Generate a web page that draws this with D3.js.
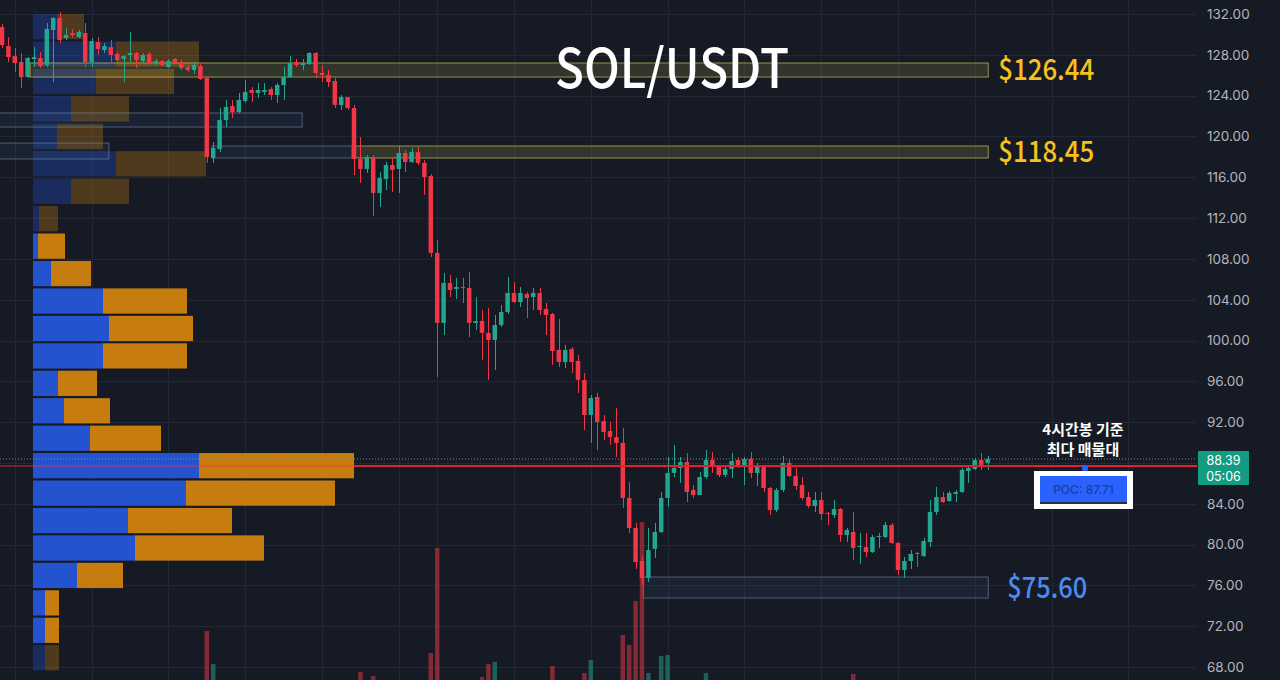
<!DOCTYPE html>
<html><head><meta charset="utf-8">
<script src="https://cdn.jsdelivr.net/npm/d3@7/dist/d3.min.js"></script>
<style>html,body{margin:0;padding:0;background:#161a25;overflow:hidden}</style>
</head><body><svg id="c" width="1280" height="680"></svg>
<script>
// ---------- DATA ----------
const title = "SOL/USDT";
const priceTicks = [68,72,76,80,84,88,92,96,100,104,108,112,116,120,124,128,132];
const opens = [130.72,128.86,127.88,127.29,125.82,127.59,127.69,127.00,130.43,131.61,
129.65,130.14,129.74,130.14,127.29,129.25,128.47,128.76,128.08,127.59,
127.98,128.18,127.39,128.08,127.20,127.39,126.80,127.59,127.29,126.80,
126.51,126.90,125.73,117.89,118.77,121.61,122.98,122.39,123.47,124.55,
124.26,124.35,124.65,124.06,125.04,125.82,127.29,127.00,127.10,128.18,
126.22,126.02,125.43,123.08,123.86,122.79,117.79,116.81,117.98,114.46,
115.83,117.20,116.81,118.38,117.49,118.47,117.40,116.12,108.58,101.72,
105.64,105.05,105.24,105.15,101.72,101.91,100.74,100.05,101.52,102.79,
104.66,103.77,104.56,104.26,104.66,103.09,102.60,99.07,97.89,99.17,
97.99,96.13,92.70,94.46,92.11,91.13,90.54,89.96,84.57,81.63,
78.39,76.73,79.57,81.23,84.57,87.02,87.51,88.09,85.35,84.86,
86.62,88.29,87.60,86.82,87.41,88.29,87.80,88.39,87.02,87.70,
85.55,83.39,85.35,88.00,86.72,85.84,84.66,83.78,84.37,83.10,
82.90,83.49,80.94,81.23,79.76,79.76,79.27,80.74,80.74,81.92,
80.16,77.51,78.39,79.18,78.88,80.25,83.19,84.66,84.27,84.96,
85.15,87.21,87.41,88.29,88.00];
const highs = [131.02,129.74,128.67,128.18,127.78,128.76,128.27,131.12,131.70,132.19,
130.63,130.53,130.43,131.12,129.65,129.74,129.16,129.45,128.27,127.98,
130.23,128.27,128.18,128.27,127.59,127.49,127.59,127.69,127.49,127.00,
127.29,127.20,125.82,119.45,122.79,123.57,123.57,124.26,125.53,124.84,
125.24,125.24,124.84,125.24,126.80,127.88,127.59,127.59,128.27,128.27,
127.00,126.51,125.73,124.06,123.86,123.08,119.94,118.18,118.18,116.51,
117.49,117.89,119.06,118.67,118.87,118.96,117.69,116.32,109.85,106.62,
106.42,106.13,106.13,106.71,104.26,102.99,103.19,102.50,103.48,106.22,
105.73,105.24,104.75,105.15,105.15,103.68,102.70,102.11,99.56,99.36,
98.58,96.82,94.66,94.86,92.70,92.01,93.39,91.43,86.13,82.12,
78.80,81.63,82.12,85.15,88.58,89.76,88.58,88.98,85.84,87.11,
89.27,89.07,87.80,87.70,88.98,88.58,88.58,89.07,88.00,87.80,
85.64,85.55,88.68,88.29,87.51,86.62,85.15,85.15,85.15,83.19,
84.37,83.59,81.63,83.19,81.14,81.14,80.94,81.14,82.21,82.12,
80.25,78.78,79.47,79.27,80.65,84.37,85.64,85.15,85.25,85.35,
87.51,87.60,88.49,88.98,88.68];
const lows = [128.67,127.29,126.31,124.75,125.73,126.80,126.71,126.80,125.33,129.16,
129.45,129.65,129.65,126.80,126.80,127.98,128.18,127.29,127.20,125.33,
127.29,126.71,127.20,127.00,127.00,126.90,126.71,127.10,126.51,126.31,
126.12,125.53,117.40,117.40,118.47,120.92,121.81,122.30,123.28,123.37,
123.77,124.06,123.57,123.28,123.57,125.73,126.80,126.51,127.00,125.73,
125.33,124.84,122.79,122.59,122.59,116.22,115.44,116.42,112.20,113.08,
114.75,114.55,114.46,116.51,117.40,117.20,114.26,108.18,96.42,100.54,
104.26,104.07,103.68,100.34,101.03,98.09,96.13,97.11,101.32,102.60,
103.68,103.28,102.21,102.99,102.50,100.54,97.60,97.40,97.31,96.82,
94.86,91.23,89.96,89.27,90.25,89.76,88.58,83.59,81.14,77.61,
76.04,76.33,78.69,81.14,83.68,86.62,86.04,84.17,84.57,84.86,
86.43,87.02,86.62,86.62,86.53,87.51,85.84,86.53,85.74,85.15,
82.90,83.19,85.15,86.62,85.35,84.37,83.59,83.19,82.41,81.92,
82.61,80.25,80.25,78.49,78.10,78.78,79.18,79.67,80.65,80.06,
77.02,76.73,77.61,77.80,78.78,79.76,82.90,84.08,84.17,84.17,
85.06,86.04,87.31,87.31,87.31];
const closes = [128.96,127.78,127.20,125.82,127.69,127.78,126.90,130.53,131.61,129.45,
129.94,129.94,130.23,127.29,129.35,128.57,128.86,127.98,127.49,127.88,
128.18,127.49,127.98,127.20,127.39,127.00,127.39,127.20,126.71,126.51,
127.00,125.63,117.98,118.87,121.61,122.88,122.39,123.57,124.35,124.26,
124.55,124.55,124.06,125.04,125.82,127.20,127.00,127.20,128.18,126.22,
126.02,125.33,123.08,123.86,122.79,117.79,116.81,117.98,114.46,115.93,
117.20,116.71,118.38,117.49,118.47,117.40,116.02,108.58,101.72,105.64,
104.95,105.24,105.15,101.72,101.91,100.74,100.05,101.52,102.79,104.66,
103.77,104.66,104.17,104.66,102.99,102.50,98.97,97.89,99.07,97.89,
96.13,92.70,94.37,92.01,91.03,90.54,89.96,84.57,81.63,78.29,
76.73,79.47,81.23,84.57,87.02,87.51,88.09,85.15,84.86,86.62,
88.29,87.60,86.82,87.41,88.19,87.70,88.39,87.02,87.70,85.55,
83.39,85.35,88.00,86.72,85.74,84.57,83.78,84.37,83.00,83.00,
83.49,80.94,81.43,79.67,79.86,79.27,80.74,80.84,81.92,80.16,
77.51,78.39,79.08,79.08,80.35,83.19,84.66,84.17,85.06,85.15,
87.31,87.51,88.29,87.80,88.39];
const volumes = [220,180,160,210,170,150,140,260,240,230,
130,110,120,250,200,150,120,170,140,190,
160,140,120,150,110,100,130,110,140,120,
130,200,1035,540,280,230,150,190,210,150,
130,110,150,180,240,270,140,120,200,260,
160,190,280,170,190,290,420,200,360,270,
230,180,260,170,140,160,250,705,2280,290,
190,150,160,280,200,345,540,570,230,290,
170,150,140,130,210,220,510,260,200,210,
270,405,600,270,210,190,250,975,825,1485,
2670,405,280,660,675,260,200,290,170,230,
405,180,160,140,200,130,180,210,160,220,
250,200,290,180,160,170,150,120,190,110,
130,240,150,390,180,140,200,110,150,200,
280,200,160,120,190,290,260,140,130,110,
270,140,180,160,120];
// grid (time) positions, as candle indices
const timeGridIdx = [2,14,26,38,50,62,68,80,92,104,116,128,140,152,164,176];
// volume profile (bottom bin -> top bin), buy / sell volume
const profileRange = [67.55, 132.1];
const profileBuy  = [120,120,120,440,1020,950,1530,1660,570,310,250,700,760,700,180,50,60,380,830,240,380,630,830,240];
const profileSell = [140,140,140,460,1290,1040,1490,1550,710,460,390,840,840,840,400,270,190,580,900,460,580,780,830,270];
const valueArea = [70.24, 110.6];
const pocPrice = 87.71;
const lastPrice = 88.39, countdown = "05:06";
// zones: candle-index span and price span
const supplyZones = [ {from:4.4, to:154.1, lo:125.82, hi:127.20, label:"$126.44"},
                      {from:55.2, to:154.1, lo:117.89, hi:119.06, label:"$118.45"} ];
const blueZones = [ {from:-1, to:46.9, lo:120.92, hi:122.30},
                    {from:-1, to:16.7, lo:117.79, hi:119.35},
                    {from:32.8, to:54.7, lo:117.89, hi:119.06},
                    {from:100.2, to:154.1, lo:74.76, hi:76.82, label:"$75.60"} ];
const noteLines = ["4시간봉 기준","최다 매물대"];

// ---------- CHART ----------
const W=1280, H=680, plotRight=1197;
const svg=d3.select('#c');
svg.append('rect').attr('width',W).attr('height',H).attr('fill','#161a25');

const y=d3.scaleLinear().domain([68,132]).range([667,14]);
const idx=d3.range(opens.length);
const x=d3.scaleBand().domain(idx).range([-1.2,990.8]).paddingInner(0.3).paddingOuter(0.15);
const bw=x.bandwidth();
const cx=i=>x(i)+bw/2;
const xf=f=>cx(0)+f*x.step();
const vy=d3.scaleLinear().domain([0,3000]).range([700,500]);

const UP='#22a68f', DN='#f23645';

// grid
const g=svg.append('g');
g.selectAll('.h').data(priceTicks).join('line')
 .attr('x1',0).attr('x2',plotRight).attr('y1',d=>Math.round(y(d))+0.5).attr('y2',d=>Math.round(y(d))+0.5)
 .attr('stroke','#232734').attr('stroke-width',1);
g.selectAll('.v').data(timeGridIdx).join('line')
 .attr('y1',0).attr('y2',H).attr('x1',d=>Math.round(xf(d))+0.5).attr('x2',d=>Math.round(xf(d))+0.5)
 .attr('stroke','#232734').attr('stroke-width',1);

// volume profile
const nb=profileBuy.length;
const binStep=(profileRange[1]-profileRange[0])/nb;
const totals=profileBuy.map((b,i)=>b+profileSell[i]);
const px=d3.scaleLinear().domain([0,d3.max(totals)]).range([0,321]);
const px0=33;
const bins=profileBuy.map((b,i)=>{const lo=profileRange[0]+i*binStep, hi=lo+binStep, mid=(lo+hi)/2;
  return {lo,hi,buy:b,sell:profileSell[i],inVA: mid>valueArea[0] && mid<valueArea[1]};});
function drawProfile(sel, data){
  const gg=sel.selectAll('g').data(data).join('g');
  gg.append('rect').attr('x',px0).attr('y',d=>y(d.hi)+1).attr('height',d=>y(d.lo)-y(d.hi)-2.2)
    .attr('width',d=>px(d.buy)).attr('fill','#2453d0').attr('opacity',d=>d.inVA?1:0.33);
  gg.append('rect').attr('x',d=>px0+px(d.buy)).attr('y',d=>y(d.hi)+1).attr('height',d=>y(d.lo)-y(d.hi)-2.2)
    .attr('width',d=>px(d.sell)).attr('fill','#c77c10').attr('opacity',d=>d.inVA?1:0.33);
}
drawProfile(svg.append('g'), bins.filter(d=>!d.inVA));

// zones
const zg=svg.append('g');
zg.selectAll('.b').data(blueZones).join('rect')
 .attr('x',d=>xf(d.from)).attr('width',d=>xf(d.to)-xf(d.from))
 .attr('y',d=>y(d.hi)).attr('height',d=>y(d.lo)-y(d.hi))
 .attr('fill','rgba(80,120,165,0.10)').attr('stroke','rgba(120,150,180,0.55)').attr('stroke-width',1);
zg.selectAll('.s').data(supplyZones).join('rect')
 .attr('x',d=>xf(d.from)).attr('width',d=>xf(d.to)-xf(d.from))
 .attr('y',d=>y(d.hi)).attr('height',d=>y(d.lo)-y(d.hi))
 .attr('fill','rgba(215,205,80,0.15)').attr('stroke','rgba(215,205,85,0.65)').attr('stroke-width',1);

// volume bars
svg.append('g').selectAll('rect').data(idx).join('rect')
 .attr('x',i=>x(i)).attr('width',bw).attr('y',i=>vy(volumes[i])).attr('height',i=>vy(0)-vy(volumes[i]))
 .attr('fill',i=>closes[i]>=opens[i]?UP:DN).attr('opacity',0.5);

// candles
const cg=svg.append('g').selectAll('g').data(idx).join('g');
cg.append('line').attr('x1',i=>Math.round(cx(i))+0.5).attr('x2',i=>Math.round(cx(i))+0.5)
 .attr('y1',i=>y(highs[i])).attr('y2',i=>y(lows[i]))
 .attr('stroke',i=>closes[i]>=opens[i]?UP:DN).attr('stroke-width',1);
cg.append('rect').attr('x',i=>x(i)).attr('width',bw)
 .attr('y',i=>y(Math.max(opens[i],closes[i])))
 .attr('height',i=>Math.max(1,Math.abs(y(opens[i])-y(closes[i]))))
 .attr('fill',i=>closes[i]>=opens[i]?UP:DN);

// solid profile bars
drawProfile(svg.append('g'), bins.filter(d=>d.inVA));

// lines
svg.append('line').attr('x1',0).attr('x2',plotRight).attr('y1',y(lastPrice)).attr('y2',y(lastPrice))
 .attr('stroke','#7f8a99').attr('stroke-width',1).attr('stroke-dasharray','1,2');
svg.append('line').attr('x1',px0+px(d3.max(totals))).attr('x2',plotRight).attr('y1',y(pocPrice)).attr('y2',y(pocPrice))
 .attr('stroke','#e3202d').attr('stroke-width',2);
svg.append('line').attr('x1',0).attr('x2',px0+px(d3.max(totals))).attr('y1',y(pocPrice)).attr('y2',y(pocPrice))
 .attr('stroke','#ff3030').attr('stroke-width',2).attr('opacity',0.4);

// axis (labels hidden where the last-price tag covers them)
const axisTicks=priceTicks.filter(t=>Math.abs(y(t)-(y(lastPrice)+9))>20);
const ax=svg.append('g').attr('transform',`translate(1204,0)`)
 .call(d3.axisRight(y).tickValues(axisTicks).tickFormat(d3.format('.2f')).tickSize(0).tickPadding(3));
ax.select('.domain').remove();
ax.selectAll('text').attr('fill','#b2b5be').attr('font-family','Inter, "Liberation Sans", sans-serif').attr('font-size',13.5);

// last price label
svg.append('rect').attr('x',1198).attr('y',y(lastPrice)-8).attr('width',51).attr('height',34).attr('rx',1).attr('fill','#149c82');
svg.append('text').attr('x',1223.5).attr('y',y(lastPrice)+6).attr('text-anchor','middle').attr('fill','#fff')
 .attr('font-family','Inter, sans-serif').attr('font-size',12.5).text(lastPrice.toFixed(2));
svg.append('text').attr('x',1223.5).attr('y',y(lastPrice)+22).attr('text-anchor','middle').attr('fill','#fff')
 .attr('font-family','Inter, sans-serif').attr('font-size',12.5).text(countdown);

// title
svg.append('text').attr('x',672).attr('y',88).attr('text-anchor','middle').attr('fill','#fff')
 .attr('font-family','"Noto Sans CJK KR", "Noto Sans", sans-serif').attr('font-weight',500).attr('font-size',54)
 .attr('textLength',234).attr('lengthAdjust','spacingAndGlyphs').text(title);

// zone labels
const KR='"Noto Sans CJK KR", "Noto Sans", sans-serif';
svg.selectAll('.sl').data(supplyZones).join('text')
 .attr('x',d=>xf(d.to)+10).attr('y',d=>y((d.lo+d.hi)/2)+10).attr('fill','#f4c21a')
 .attr('font-family',KR).attr('font-size',29).attr('font-weight',500)
 .attr('textLength',96).attr('lengthAdjust','spacingAndGlyphs').text(d=>d.label);
svg.selectAll('.bl').data(blueZones.filter(d=>d.label)).join('text')
 .attr('x',d=>xf(d.to)+19).attr('y',d=>y((d.lo+d.hi)/2)+10).attr('fill','#4a8af4')
 .attr('font-family',KR).attr('font-size',29).attr('font-weight',500)
 .attr('textLength',80).attr('lengthAdjust','spacingAndGlyphs').text(d=>d.label);

// note
svg.selectAll('.note').data(noteLines).join('text')
 .attr('x',1083).attr('y',(d,i)=>435+i*20).attr('text-anchor','middle').attr('fill','#fff')
 .attr('font-family',KR).attr('font-size',15).attr('font-weight',700).text(d=>d);

// POC label
svg.append('rect').attr('x',1034).attr('y',471).attr('width',99).attr('height',38).attr('fill','#fff');
svg.append('rect').attr('x',1040).attr('y',476).attr('width',87).attr('height',27).attr('fill','#2962ff');
svg.append('rect').attr('x',1040).attr('y',502).attr('width',87).attr('height',2).attr('fill','#2a2e39');
svg.append('text').attr('x',1083.5).attr('y',494).attr('text-anchor','middle').attr('fill','#1c3d9e')
 .attr('font-family','Inter, sans-serif').attr('font-size',12).attr('font-weight',500).text('POC: '+pocPrice.toFixed(2));
svg.append('circle').attr('cx',1085).attr('cy',y(pocPrice)+2).attr('r',3.2).attr('fill','#2962ff');
</script></body></html>
